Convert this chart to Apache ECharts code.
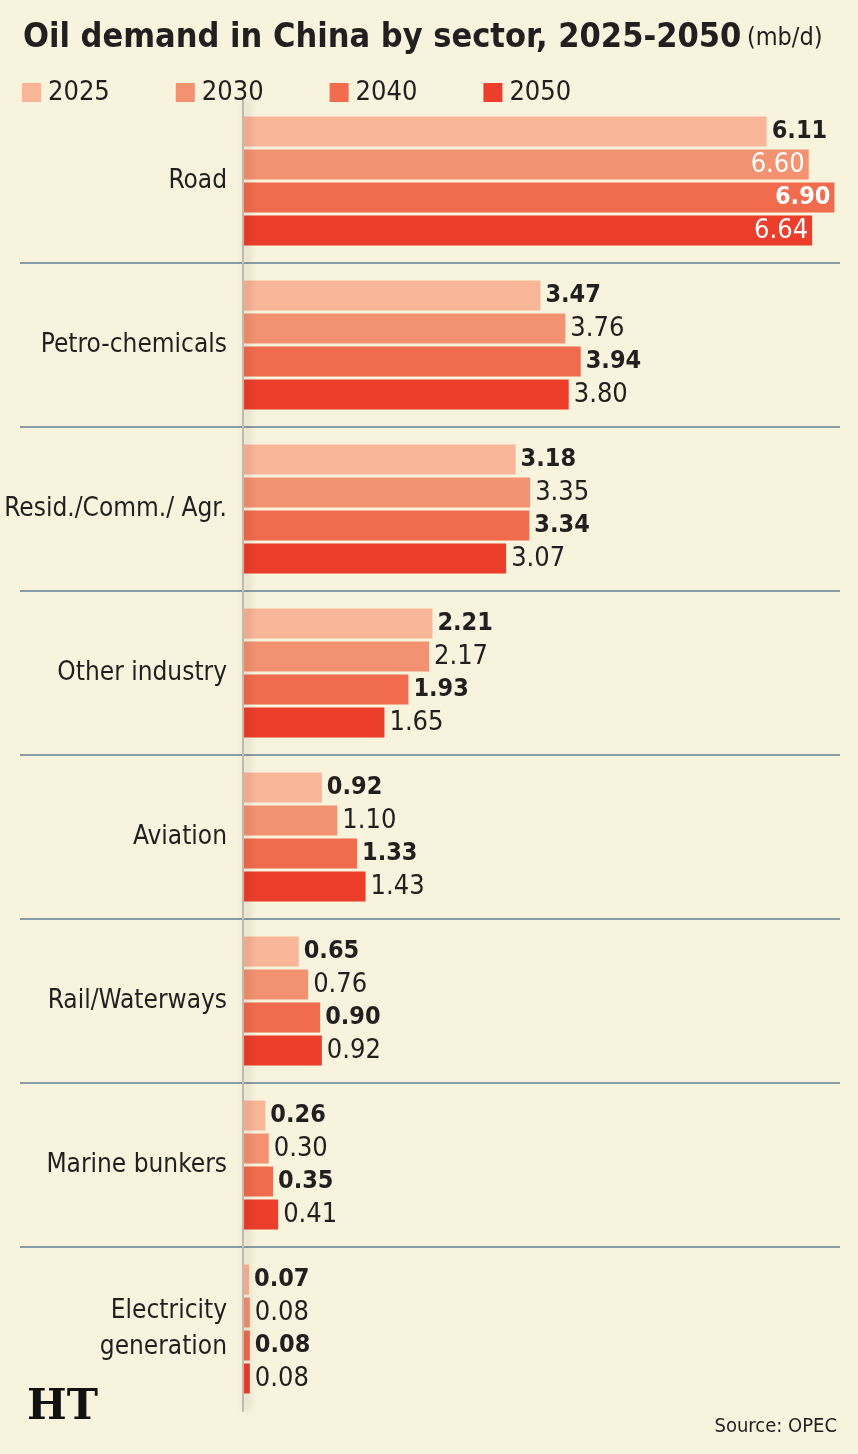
<!DOCTYPE html>
<html>
<head>
<meta charset="utf-8">
<script src="https://cdn.jsdelivr.net/npm/echarts@6/dist/echarts.min.js"></script>
<style>
  html, body { margin: 0; padding: 0; background: #f7f3dd; }
  #main { width: 858px; height: 1454px; }
</style>
</head>
<body>
<div id="main"></div>
<script>
var FONT = '"Liberation Sans Narrow", "DejaVu Sans Condensed", "Roboto", sans-serif';
var INK = '#231f20';

var categories = ['Road', 'Petro-chemicals', 'Resid./Comm./ Agr.', 'Other industry',
                  'Aviation', 'Rail/Waterways', 'Marine bunkers', 'Electricity\ngeneration'];
var years = ['2025', '2030', '2040', '2050'];
var colors = ['#f9b597', '#f39271', '#f06c4c', '#ec3e2b'];
var v2025 = [6.11, 3.47, 3.18, 2.21, 0.92, 0.65, 0.26, 0.07];
var v2030 = [6.60, 3.76, 3.35, 2.17, 1.10, 0.76, 0.30, 0.08];
var v2040 = [6.90, 3.94, 3.34, 1.93, 1.33, 0.90, 0.35, 0.08];
var v2050 = [6.64, 3.80, 3.07, 1.65, 1.43, 0.92, 0.41, 0.08];
var values = [v2025, v2030, v2040, v2050];
var bold = [true, false, true, false];
// Road bars that carry their label inside, in white
var insideLabel = [false, true, true, true];

function makeSeries(i) {
    return {
        name: years[i],
        type: 'bar',
        xAxisIndex: 0,
        yAxisIndex: 0,
        barWidth: 30,
        barGap: '10%',
        itemStyle: { color: colors[i] },
        label: {
            show: true,
            position: 'right',
            distance: 5,
            color: INK,
            fontFamily: FONT,
            fontSize: bold[i] ? 25 : 27,
            fontWeight: bold[i] ? 'bold' : 'normal',
            formatter: function (p) { return p.value.toFixed(2); }
        },
        data: values[i].map(function (v, k) {
            if (k === 0 && insideLabel[i]) {
                return { value: v, label: { position: 'insideRight', color: '#fff', distance: 4 } };
            }
            return v;
        })
    };
}

var option = {
    backgroundColor: '#f7f3dd',
    animation: false,
    textStyle: { fontFamily: FONT, color: INK },
    title: [
        {
            left: 18, top: 16,
            text: '{b|Oil demand in China by sector, 2025-2050} {s|(mb/d)}',
            textStyle: {
                rich: {
                    b: { fontFamily: FONT, fontSize: 34, fontWeight: 'bold', color: INK },
                    s: { fontFamily: FONT, fontSize: 25, fontWeight: 'normal', color: INK }
                }
            }
        },
        {
            right: 16, bottom: 12,
            text: 'Source: OPEC',
            textStyle: { fontFamily: FONT, fontSize: 20, fontWeight: 'normal', color: INK }
        },
        {
            left: 22, bottom: 20,
            text: 'HT',
            textStyle: { fontFamily: '"DejaVu Serif", serif', fontSize: 42, fontWeight: 'bold', color: '#111' }
        }
    ],
    legend: {
        left: 17, top: 74,
        icon: 'rect',
        itemWidth: 19, itemHeight: 19,
        itemGap: 66,
        textStyle: { fontFamily: FONT, fontSize: 27, color: INK, padding: [0, 0, 0, 2] },
        data: years
    },
    grid: [
        { left: 243, top: 99, width: 600, height: 1312, outerBoundsMode: 'none' },
        { left: 20, top: 99, width: 820, height: 1312, outerBoundsMode: 'none' }
    ],
    xAxis: [
        { type: 'value', gridIndex: 0, min: 0, max: 7, show: false },
        { type: 'value', gridIndex: 1, min: 0, max: 1, show: false }
    ],
    yAxis: [
        {
            type: 'category',
            gridIndex: 0,
            inverse: true,
            data: categories,
            z: 3,
            axisTick: { show: false },
            axisLine: {
                show: true,
                lineStyle: {
                    color: '#bdbbb2', width: 2,
                    shadowColor: 'rgba(0,0,0,0.28)', shadowBlur: 8, shadowOffsetX: 4
                }
            },
            axisLabel: {
                margin: 16,
                fontFamily: FONT,
                fontSize: 26,
                color: INK,
                lineHeight: 36
            },
            splitLine: { show: false }
        },
        {
            type: 'category',
            gridIndex: 1,
            inverse: true,
            data: categories,
            axisLine: { show: false },
            axisTick: { show: false },
            axisLabel: { show: false },
            splitLine: {
                show: true,
                showMinLine: false,
                showMaxLine: false,
                lineStyle: { color: '#8a9ea8', width: 2 }
            }
        }
    ],
    series: [makeSeries(0), makeSeries(1), makeSeries(2), makeSeries(3)]
};

var myChart = echarts.init(document.getElementById('main'));
myChart.setOption(option);
</script>
</body>
</html>
